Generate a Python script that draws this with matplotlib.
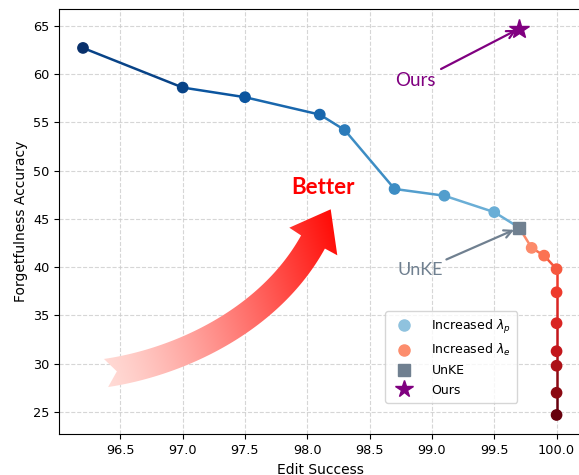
import numpy as np
import matplotlib
matplotlib.use("Agg")
import matplotlib.pyplot as plt
from matplotlib.path import Path
from matplotlib.patches import PathPatch
from matplotlib.lines import Line2D

# ---------------- data ----------------
blue_x = [96.2, 97.0, 97.5, 98.1, 98.3, 98.7, 99.1, 99.5]
blue_y = [62.7, 58.6, 57.6, 55.8, 54.2, 48.1, 47.4, 45.7]
unke_x, unke_y = 99.7, 44.1
red_x = [99.8, 99.9, 100.0, 100.0, 100.0, 100.0, 100.0, 100.0, 100.0]
red_y = [42.0, 41.2, 39.8, 37.4, 34.2, 31.3, 29.8, 27.0, 24.7]
ours_x, ours_y = 99.7, 64.7
x_ticks = [96.5, 97.0, 97.5, 98.0, 98.5, 99.0, 99.5, 100.0]
y_ticks = [25, 30, 35, 40, 45, 50, 55, 60, 65]
legend_labels = [r'Increased $\lambda_p$', r'Increased $\lambda_e$', 'UnKE', 'Ours']

W, H = 579, 475
fig = plt.figure(figsize=(W / 100, H / 100), dpi=100)
ax = fig.add_axes([59.3 / W, 1 - 434.3 / H, (581.5 - 59.3) / W, (434.3 - 9.3) / H])

blues = plt.cm.Blues(np.linspace(1.0, 0.5, len(blue_x)))
reds = plt.cm.Reds(np.linspace(0.4, 1.0, len(red_x)))

# blue segments
for i in range(len(blue_x) - 1):
    ax.plot(blue_x[i:i + 2], blue_y[i:i + 2], color=blues[i + 1], lw=1.8, zorder=2)
ax.plot([blue_x[-1], unke_x], [blue_y[-1], unke_y], color=blues[-1], lw=1.8, zorder=2)
# red segments
ax.plot([unke_x, red_x[0]], [unke_y, red_y[0]], color=reds[0], lw=1.8, zorder=2)
for i in range(len(red_x) - 1):
    ax.plot(red_x[i:i + 2], red_y[i:i + 2], color=reds[i + 1], lw=1.8, zorder=2)

ax.scatter(blue_x, blue_y, c=blues, s=55, zorder=3)
ax.scatter(red_x, red_y, c=reds, s=55, zorder=3)
ax.plot([unke_x], [unke_y], marker='s', color='#708090', ms=9, zorder=4, ls='none')
ax.plot([ours_x], [ours_y], marker='*', color='purple', ms=15, zorder=4, ls='none')

ax.set_xlim(96.01, 100.2)
ax.set_ylim(22.7, 66.7)
ax.set_xticks(x_ticks)
ax.set_yticks(y_ticks)
ax.tick_params(labelsize=9.3)
ax.grid(True, ls='--', color='#cccccc', lw=0.8, alpha=0.8)
ax.set_axisbelow(True)
ax.set_xlabel('Edit Success', fontsize=10)
ax.set_ylabel('Forgetfulness Accuracy', fontsize=10)

# annotations
ax.text(98.87, 59.3, 'Ours', color='purple', fontsize=13.5, family='Lato',
        ha='center', va='center')
ax.annotate('', xy=(ours_x, ours_y), xytext=(99.073, 60.52),
            arrowprops=dict(arrowstyle='->', color='purple', lw=1.6,
                            shrinkA=0, shrinkB=2, mutation_scale=14), zorder=5)
ax.text(98.91, 39.66, 'UnKE', color='#708090', fontsize=13, family='Lato',
        ha='center', va='center')
ax.annotate('', xy=(unke_x, unke_y), xytext=(99.116, 40.8),
            arrowprops=dict(arrowstyle='->', color='#708090', lw=1.6,
                            shrinkA=0, shrinkB=4, mutation_scale=14), zorder=5)
ax.text(98.127, 48.25, 'Better', color='red', fontsize=16, fontweight='bold',
        family='Lato', ha='center', va='center')

# legend
handles = [
    Line2D([], [], marker='o', ls='none', color='#8fc2de', ms=8),
    Line2D([], [], marker='o', ls='none', color='#fc8d6d', ms=8),
    Line2D([], [], marker='s', ls='none', color='#708090', ms=8),
    Line2D([], [], marker='*', ls='none', color='purple', ms=13),
]
ax.legend(handles, legend_labels, loc='lower right', bbox_to_anchor=(0.889, 0.0595),
          fontsize=9, handletextpad=1.2, borderpad=0.5)

# ---------------- gradient curved arrow (decoration, pixel coords) ----------------
ov = fig.add_axes([0, 0, 1, 1], zorder=1)
ov.set_xlim(0, W)
ov.set_ylim(H, 0)
ov.axis('off')
ov.patch.set_alpha(0)

P0 = np.array([106, 373.0]); C1 = np.array([180, 362.0])
C2 = np.array([270, 320.0]); P3 = np.array([313, 242.0])
t = np.linspace(0, 1, 80)[:, None]
cen = (1 - t) ** 3 * P0 + 3 * (1 - t) ** 2 * t * C1 + 3 * (1 - t) * t ** 2 * C2 + t ** 3 * P3
der = 3 * (1 - t) ** 2 * (C1 - P0) + 6 * (1 - t) * t * (C2 - C1) + 3 * t ** 2 * (P3 - C2)
tang = der / np.linalg.norm(der, axis=1, keepdims=True)
nrm = np.column_stack([tang[:, 1], -tang[:, 0]])
hw = (14.2 - 0.6 * t[:, 0])[:, None]
upper = cen + hw * nrm
lower = cen - hw * nrm
notch = P0 + 11 * tang[0]
tip = np.array([330.7, 209.3])
lb = np.array([289.3, 227.7])
rb = np.array([337.3, 255.3])
pts = np.vstack([notch[None, :], upper, lb[None, :], tip[None, :], rb[None, :],
                 lower[::-1], notch[None, :]])
codes = [Path.MOVETO] + [Path.LINETO] * (len(pts) - 2) + [Path.CLOSEPOLY]
arrow_path = Path(pts, codes)
patch = PathPatch(arrow_path, facecolor='none', edgecolor='none')
ov.add_patch(patch)

x0, x1, y0, y1 = 95, 345, 200, 395
gx, gy = np.meshgrid(np.linspace(x0, x1, 300), np.linspace(y0, y1, 240))
d = np.array([0.95, -0.3])
s = ((gx - 103) * d[0] + (gy - 373) * d[1])
smax = (337 - 103) * d[0] + (209 - 373) * d[1]
s = np.clip(s / smax, 0, 1) ** 1.25
c0 = np.array([1.0, 0.86, 0.84]); c1 = np.array([1.0, 0.02, 0.0])
img = c0[None, None, :] * (1 - s[..., None]) + c1[None, None, :] * s[..., None]
im = ov.imshow(img, extent=(x0, x1, y1, y0), origin='upper', interpolation='bilinear', zorder=2)
im.set_clip_path(patch)
ov.set_xlim(0, W)
ov.set_ylim(H, 0)

fig.savefig('out.png', dpi=100)
